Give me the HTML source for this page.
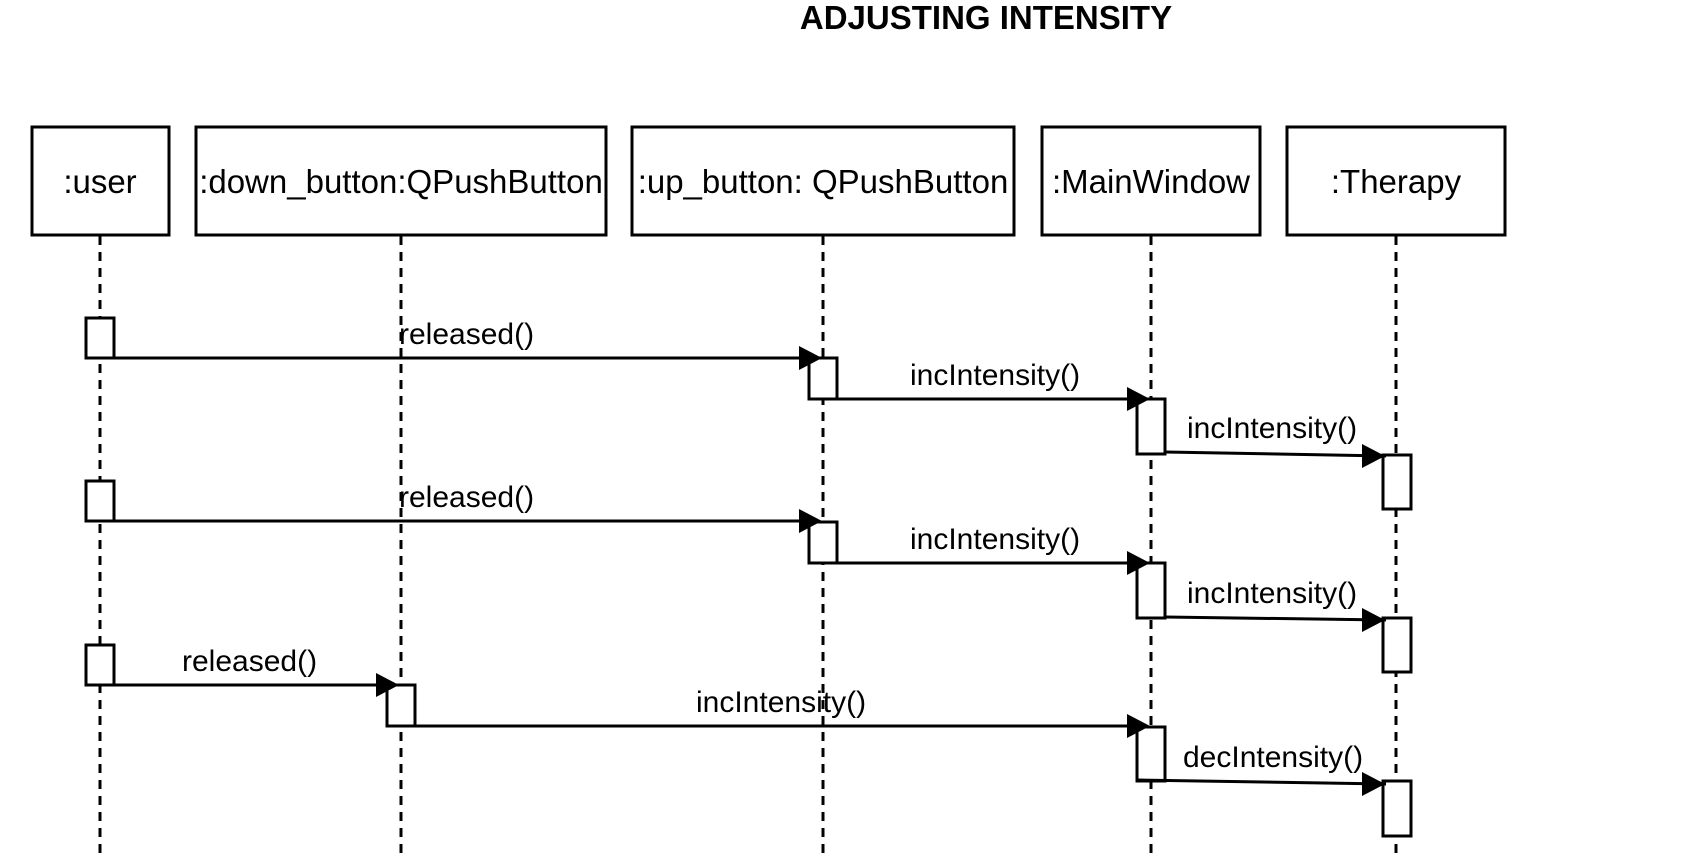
<!DOCTYPE html>
<html><head><meta charset="utf-8"><style>html,body{margin:0;padding:0;background:#fff}svg{display:block}</style></head>
<body>
<svg width="1707" height="859" viewBox="0 0 1707 859" xmlns="http://www.w3.org/2000/svg" font-family="Liberation Sans, Arial, sans-serif">
<rect width="1707" height="859" fill="#fff"/>
<text x="986" y="29" font-size="33" font-weight="bold" text-anchor="middle">ADJUSTING INTENSITY</text>
<g fill="#fff" stroke="#000" stroke-width="3">
<rect x="32" y="127" width="137" height="108"/>
<rect x="196" y="127" width="410" height="108"/>
<rect x="632" y="127" width="382" height="108"/>
<rect x="1042" y="127" width="218" height="108"/>
<rect x="1287" y="127" width="218" height="108"/>
</g>
<g font-size="33" text-anchor="middle">
<text x="100" y="193">:user</text>
<text x="401" y="193">:down_button:QPushButton</text>
<text x="823" y="193">:up_button: QPushButton</text>
<text x="1151" y="193">:MainWindow</text>
<text x="1396" y="193">:Therapy</text>
</g>
<g stroke="#000" stroke-width="3" stroke-dasharray="9,7">
<line x1="100" y1="236" x2="100" y2="859"/>
<line x1="401" y1="236" x2="401" y2="859"/>
<line x1="823" y1="236" x2="823" y2="859"/>
<line x1="1151" y1="236" x2="1151" y2="859"/>
<line x1="1396" y1="236" x2="1396" y2="859"/>
</g>
<g fill="#fff" stroke="#000" stroke-width="3">
<rect x="86" y="318" width="28" height="40"/>
<rect x="86" y="481" width="28" height="40"/>
<rect x="86" y="645" width="28" height="40"/>
<rect x="809" y="358" width="28" height="41"/>
<rect x="809" y="522" width="28" height="41"/>
<rect x="387" y="685" width="28" height="41"/>
<rect x="1137" y="399" width="28" height="55"/>
<rect x="1137" y="563" width="28" height="55"/>
<rect x="1137" y="727" width="28" height="54"/>
<rect x="1383" y="455" width="28" height="54"/>
<rect x="1383" y="618" width="28" height="54"/>
<rect x="1383" y="781" width="28" height="55"/>
</g>
<g stroke="#000" stroke-width="3" fill="none">
<line x1="86" y1="358" x2="812" y2="358"/>
<line x1="809" y1="399" x2="1140" y2="399"/>
<line x1="1165" y1="452" x2="1386" y2="456"/>
<line x1="86" y1="521" x2="812" y2="521"/>
<line x1="809" y1="563" x2="1140" y2="563"/>
<line x1="1165" y1="617" x2="1386" y2="620"/>
<line x1="86" y1="685" x2="390" y2="685"/>
<line x1="387" y1="726" x2="1140" y2="726"/>
<line x1="1137" y1="780" x2="1386" y2="784"/>
</g>
<g fill="#000">
<polygon points="822,358 799,346 799,370"/>
<polygon points="1150,399 1127,387 1127,411"/>
<polygon points="1385,456 1362,444 1362,468"/>
<polygon points="822,521 799,509 799,533"/>
<polygon points="1150,563 1127,551 1127,575"/>
<polygon points="1385,620 1362,608 1362,632"/>
<polygon points="399,685 376,673 376,697"/>
<polygon points="1150,726 1127,714 1127,738"/>
<polygon points="1385,784 1362,772 1362,796"/>
</g>
<g font-size="30">
<text x="399" y="344">released()</text>
<text x="910" y="385">incIntensity()</text>
<text x="1187" y="438">incIntensity()</text>
<text x="399" y="507">released()</text>
<text x="910" y="549">incIntensity()</text>
<text x="1187" y="603">incIntensity()</text>
<text x="182" y="671">released()</text>
<text x="696" y="712">incIntensity()</text>
<text x="1183" y="767">decIntensity()</text>
</g>
</svg>
</body></html>
